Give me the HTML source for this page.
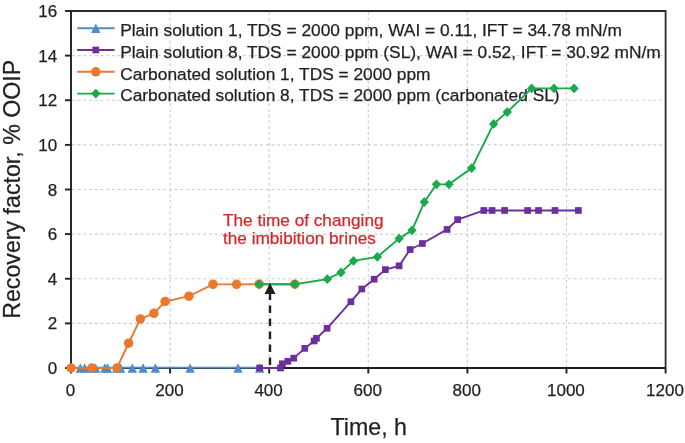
<!DOCTYPE html>
<html><head><meta charset="utf-8"><style>
html,body{margin:0;padding:0;background:#fff;}
svg{display:block;will-change:transform;}
text{font-family:"Liberation Sans",sans-serif;fill:#231f20;stroke:#231f20;stroke-width:0.25px;}
.tl{font-size:17px;}
.at{font-size:23.2px;}
.lg{font-size:17.34px;}
.an{font-size:17.2px;fill:#d8262b;stroke:#d8262b;}
</style></head><body>
<svg width="685" height="443" viewBox="0 0 685 443">
<rect width="685" height="443" fill="#fff"/>
<line x1="72.0" y1="323.38" x2="664.6" y2="323.38" stroke="#cfcfcf" stroke-width="1.2" stroke-dasharray="3 2.7"/>
<line x1="72.0" y1="278.75" x2="664.6" y2="278.75" stroke="#cfcfcf" stroke-width="1.2" stroke-dasharray="3 2.7"/>
<line x1="72.0" y1="234.12" x2="664.6" y2="234.12" stroke="#cfcfcf" stroke-width="1.2" stroke-dasharray="3 2.7"/>
<line x1="72.0" y1="189.50" x2="664.6" y2="189.50" stroke="#cfcfcf" stroke-width="1.2" stroke-dasharray="3 2.7"/>
<line x1="72.0" y1="144.88" x2="664.6" y2="144.88" stroke="#cfcfcf" stroke-width="1.2" stroke-dasharray="3 2.7"/>
<line x1="72.0" y1="100.25" x2="664.6" y2="100.25" stroke="#cfcfcf" stroke-width="1.2" stroke-dasharray="3 2.7"/>
<line x1="72.0" y1="55.62" x2="664.6" y2="55.62" stroke="#cfcfcf" stroke-width="1.2" stroke-dasharray="3 2.7"/>
<line x1="170.10" y1="12.0" x2="170.10" y2="367.0" stroke="#cfcfcf" stroke-width="1.2" stroke-dasharray="3 2.7"/>
<line x1="269.20" y1="12.0" x2="269.20" y2="367.0" stroke="#cfcfcf" stroke-width="1.2" stroke-dasharray="3 2.7"/>
<line x1="368.30" y1="12.0" x2="368.30" y2="367.0" stroke="#cfcfcf" stroke-width="1.2" stroke-dasharray="3 2.7"/>
<line x1="467.40" y1="12.0" x2="467.40" y2="367.0" stroke="#cfcfcf" stroke-width="1.2" stroke-dasharray="3 2.7"/>
<line x1="566.50" y1="12.0" x2="566.50" y2="367.0" stroke="#cfcfcf" stroke-width="1.2" stroke-dasharray="3 2.7"/>
<line x1="77.2" y1="28.20" x2="114.6" y2="28.20" stroke="#4f8cc9" stroke-width="1.9"/>
<path d="M95.80,23.40 L100.50,33.00 L91.10,33.00 Z" fill="#4f8cc9"/>
<text x="120.2" y="35.90" class="lg">Plain solution 1, TDS = 2000 ppm, WAI = 0.11, IFT = 34.78 mN/m</text>
<line x1="77.2" y1="50.00" x2="114.6" y2="50.00" stroke="#6b2f9e" stroke-width="1.9"/>
<rect x="92.45" y="46.65" width="6.7" height="6.7" fill="#6b2f9e"/>
<text x="120.2" y="57.70" class="lg">Plain solution 8, TDS = 2000 ppm (SL), WAI = 0.52, IFT = 30.92 mN/m</text>
<line x1="77.2" y1="71.80" x2="114.6" y2="71.80" stroke="#e8792f" stroke-width="1.9"/>
<circle cx="95.80" cy="71.80" r="4.75" fill="#e8792f"/>
<text x="120.2" y="79.50" class="lg">Carbonated solution 1, TDS = 2000 ppm</text>
<line x1="77.2" y1="93.60" x2="114.6" y2="93.60" stroke="#1aa94b" stroke-width="1.9"/>
<path d="M95.80,88.70 L100.50,93.60 L95.80,98.50 L91.10,93.60 Z" fill="#1aa94b"/>
<text x="120.2" y="101.30" class="lg">Carbonated solution 8, TDS = 2000 ppm (carbonated SL)</text>
<text x="223" y="226.4" class="an">The time of changing</text>
<text x="223" y="243.7" class="an">the imbibition brines</text>
<path d="M71.0,11.0 H665.6 V368.0" fill="none" stroke="#2e2728" stroke-width="1.8"/>
<path d="M71.0,10.1 V368.0 H665.6" fill="none" stroke="#231f20" stroke-width="1.9"/>
<line x1="65" y1="368.00" x2="71.0" y2="368.00" stroke="#231f20" stroke-width="1.9"/>
<line x1="65" y1="323.38" x2="71.0" y2="323.38" stroke="#231f20" stroke-width="1.9"/>
<line x1="65" y1="278.75" x2="71.0" y2="278.75" stroke="#231f20" stroke-width="1.9"/>
<line x1="65" y1="234.12" x2="71.0" y2="234.12" stroke="#231f20" stroke-width="1.9"/>
<line x1="65" y1="189.50" x2="71.0" y2="189.50" stroke="#231f20" stroke-width="1.9"/>
<line x1="65" y1="144.88" x2="71.0" y2="144.88" stroke="#231f20" stroke-width="1.9"/>
<line x1="65" y1="100.25" x2="71.0" y2="100.25" stroke="#231f20" stroke-width="1.9"/>
<line x1="65" y1="55.62" x2="71.0" y2="55.62" stroke="#231f20" stroke-width="1.9"/>
<line x1="65" y1="11.00" x2="71.0" y2="11.00" stroke="#231f20" stroke-width="1.9"/>
<line x1="71.00" y1="368.0" x2="71.00" y2="373.5" stroke="#231f20" stroke-width="1.9"/>
<line x1="170.10" y1="368.0" x2="170.10" y2="373.5" stroke="#231f20" stroke-width="1.9"/>
<line x1="269.20" y1="368.0" x2="269.20" y2="373.5" stroke="#231f20" stroke-width="1.9"/>
<line x1="368.30" y1="368.0" x2="368.30" y2="373.5" stroke="#231f20" stroke-width="1.9"/>
<line x1="467.40" y1="368.0" x2="467.40" y2="373.5" stroke="#231f20" stroke-width="1.9"/>
<line x1="566.50" y1="368.0" x2="566.50" y2="373.5" stroke="#231f20" stroke-width="1.9"/>
<line x1="665.60" y1="368.0" x2="665.60" y2="373.5" stroke="#231f20" stroke-width="1.9"/>
<text x="57.2" y="374.10" text-anchor="end" class="tl">0</text>
<text x="57.2" y="329.48" text-anchor="end" class="tl">2</text>
<text x="57.2" y="284.85" text-anchor="end" class="tl">4</text>
<text x="57.2" y="240.22" text-anchor="end" class="tl">6</text>
<text x="57.2" y="195.60" text-anchor="end" class="tl">8</text>
<text x="57.2" y="150.97" text-anchor="end" class="tl">10</text>
<text x="57.2" y="106.35" text-anchor="end" class="tl">12</text>
<text x="57.2" y="61.73" text-anchor="end" class="tl">14</text>
<text x="57.2" y="17.10" text-anchor="end" class="tl">16</text>
<text x="70.40" y="396.2" text-anchor="middle" class="tl">0</text>
<text x="169.50" y="396.2" text-anchor="middle" class="tl">200</text>
<text x="268.60" y="396.2" text-anchor="middle" class="tl">400</text>
<text x="367.70" y="396.2" text-anchor="middle" class="tl">600</text>
<text x="466.80" y="396.2" text-anchor="middle" class="tl">800</text>
<text x="565.90" y="396.2" text-anchor="middle" class="tl">1000</text>
<text x="665.00" y="396.2" text-anchor="middle" class="tl">1200</text>
<text x="368.8" y="434.5" text-anchor="middle" class="at">Time, h</text>
<text transform="translate(19.8,189.3) rotate(-90)" text-anchor="middle" class="at">Recovery factor, % OOIP</text>
<polyline points="71.00,368.00 80.32,368.00 84.69,368.00 91.83,368.00 95.59,368.00 104.82,368.00 107.49,368.00 116.62,368.00 120.58,368.00 132.28,368.00 143.09,368.00 155.39,368.00 190.10,368.00 238.00,368.00 259.71,368.00" fill="none" stroke="#4f8cc9" stroke-width="1.8" transform="translate(0,-0.3)"/>
<path d="M80.32,363.20 L85.02,372.80 L75.62,372.80 Z" fill="#4f8cc9"/>
<path d="M84.69,363.20 L89.39,372.80 L79.98,372.80 Z" fill="#4f8cc9"/>
<path d="M91.83,363.20 L96.53,372.80 L87.12,372.80 Z" fill="#4f8cc9"/>
<path d="M95.59,363.20 L100.29,372.80 L90.89,372.80 Z" fill="#4f8cc9"/>
<path d="M104.82,363.20 L109.52,372.80 L100.12,372.80 Z" fill="#4f8cc9"/>
<path d="M107.49,363.20 L112.19,372.80 L102.79,372.80 Z" fill="#4f8cc9"/>
<path d="M116.62,363.20 L121.32,372.80 L111.92,372.80 Z" fill="#4f8cc9"/>
<path d="M120.58,363.20 L125.28,372.80 L115.88,372.80 Z" fill="#4f8cc9"/>
<path d="M132.28,363.20 L136.98,372.80 L127.58,372.80 Z" fill="#4f8cc9"/>
<path d="M143.09,363.20 L147.79,372.80 L138.39,372.80 Z" fill="#4f8cc9"/>
<path d="M155.39,363.20 L160.09,372.80 L150.69,372.80 Z" fill="#4f8cc9"/>
<path d="M190.10,363.20 L194.80,372.80 L185.40,372.80 Z" fill="#4f8cc9"/>
<path d="M238.00,363.20 L242.70,372.80 L233.30,372.80 Z" fill="#4f8cc9"/>
<path d="M259.71,363.20 L264.41,372.80 L255.01,372.80 Z" fill="#4f8cc9"/>
<polyline points="259.66,368.00 280.49,368.00 282.32,363.76 287.83,361.31 293.73,358.18 304.79,348.37 314.11,341.00 316.44,338.32 327.10,328.28 350.90,301.73 361.81,289.01 374.20,279.20 385.36,269.60 399.09,265.81 410.15,249.52 422.40,243.50 447.09,229.44 457.65,219.62 483.78,210.47 492.11,210.47 504.61,210.47 527.61,210.47 538.52,210.47 554.98,210.47 578.39,210.47" fill="none" stroke="#6b2f9e" stroke-width="1.9"/>
<rect x="256.31" y="364.65" width="6.7" height="6.7" fill="#6b2f9e"/>
<rect x="277.14" y="364.65" width="6.7" height="6.7" fill="#6b2f9e"/>
<rect x="278.97" y="360.41" width="6.7" height="6.7" fill="#6b2f9e"/>
<rect x="284.48" y="357.96" width="6.7" height="6.7" fill="#6b2f9e"/>
<rect x="290.38" y="354.83" width="6.7" height="6.7" fill="#6b2f9e"/>
<rect x="301.44" y="345.01" width="6.7" height="6.7" fill="#6b2f9e"/>
<rect x="310.76" y="337.65" width="6.7" height="6.7" fill="#6b2f9e"/>
<rect x="313.09" y="334.97" width="6.7" height="6.7" fill="#6b2f9e"/>
<rect x="323.75" y="324.93" width="6.7" height="6.7" fill="#6b2f9e"/>
<rect x="347.55" y="298.38" width="6.7" height="6.7" fill="#6b2f9e"/>
<rect x="358.46" y="285.66" width="6.7" height="6.7" fill="#6b2f9e"/>
<rect x="370.85" y="275.85" width="6.7" height="6.7" fill="#6b2f9e"/>
<rect x="382.01" y="266.25" width="6.7" height="6.7" fill="#6b2f9e"/>
<rect x="395.74" y="262.46" width="6.7" height="6.7" fill="#6b2f9e"/>
<rect x="406.80" y="246.17" width="6.7" height="6.7" fill="#6b2f9e"/>
<rect x="419.05" y="240.15" width="6.7" height="6.7" fill="#6b2f9e"/>
<rect x="443.74" y="226.09" width="6.7" height="6.7" fill="#6b2f9e"/>
<rect x="454.30" y="216.27" width="6.7" height="6.7" fill="#6b2f9e"/>
<rect x="480.43" y="207.12" width="6.7" height="6.7" fill="#6b2f9e"/>
<rect x="488.76" y="207.12" width="6.7" height="6.7" fill="#6b2f9e"/>
<rect x="501.26" y="207.12" width="6.7" height="6.7" fill="#6b2f9e"/>
<rect x="524.26" y="207.12" width="6.7" height="6.7" fill="#6b2f9e"/>
<rect x="535.17" y="207.12" width="6.7" height="6.7" fill="#6b2f9e"/>
<rect x="551.63" y="207.12" width="6.7" height="6.7" fill="#6b2f9e"/>
<rect x="575.04" y="207.12" width="6.7" height="6.7" fill="#6b2f9e"/>
<polyline points="71.00,368.00 91.83,368.00 116.91,368.00 128.62,343.23 140.32,318.91 153.90,313.33 165.11,301.51 188.91,296.15 213.01,284.33 236.61,284.33 259.17,284.22 294.87,284.22" fill="none" stroke="#e8792f" stroke-width="1.9"/>
<circle cx="71.00" cy="368.00" r="4.75" fill="#e8792f"/>
<circle cx="91.83" cy="368.00" r="4.75" fill="#e8792f"/>
<circle cx="116.91" cy="368.00" r="4.75" fill="#e8792f"/>
<circle cx="128.62" cy="343.23" r="4.75" fill="#e8792f"/>
<circle cx="140.32" cy="318.91" r="4.75" fill="#e8792f"/>
<circle cx="153.90" cy="313.33" r="4.75" fill="#e8792f"/>
<circle cx="165.11" cy="301.51" r="4.75" fill="#e8792f"/>
<circle cx="188.91" cy="296.15" r="4.75" fill="#e8792f"/>
<circle cx="213.01" cy="284.33" r="4.75" fill="#e8792f"/>
<circle cx="236.61" cy="284.33" r="4.75" fill="#e8792f"/>
<circle cx="259.17" cy="284.22" r="4.75" fill="#e8792f"/>
<circle cx="294.87" cy="284.22" r="4.75" fill="#e8792f"/>
<polyline points="259.17,284.22 294.87,284.22 327.35,279.20 340.98,272.50 353.48,260.90 377.33,256.88 399.09,238.59 411.98,230.33 424.33,202.00 436.43,184.37 448.92,184.37 471.63,168.08 493.65,123.90 507.23,112.08 531.63,88.42 554.04,88.42 574.07,88.42" fill="none" stroke="#1aa94b" stroke-width="1.9"/>
<path d="M259.17,279.32 L263.87,284.22 L259.17,289.12 L254.47,284.22 Z" fill="#1aa94b"/>
<path d="M294.87,279.32 L299.57,284.22 L294.87,289.12 L290.17,284.22 Z" fill="#1aa94b"/>
<path d="M327.35,274.30 L332.05,279.20 L327.35,284.10 L322.65,279.20 Z" fill="#1aa94b"/>
<path d="M340.98,267.60 L345.68,272.50 L340.98,277.40 L336.28,272.50 Z" fill="#1aa94b"/>
<path d="M353.48,256.00 L358.18,260.90 L353.48,265.80 L348.78,260.90 Z" fill="#1aa94b"/>
<path d="M377.33,251.98 L382.03,256.88 L377.33,261.78 L372.63,256.88 Z" fill="#1aa94b"/>
<path d="M399.09,233.69 L403.79,238.59 L399.09,243.49 L394.39,238.59 Z" fill="#1aa94b"/>
<path d="M411.98,225.43 L416.68,230.33 L411.98,235.23 L407.28,230.33 Z" fill="#1aa94b"/>
<path d="M424.33,197.09 L429.03,202.00 L424.33,206.90 L419.63,202.00 Z" fill="#1aa94b"/>
<path d="M436.43,179.47 L441.13,184.37 L436.43,189.27 L431.73,184.37 Z" fill="#1aa94b"/>
<path d="M448.92,179.47 L453.62,184.37 L448.92,189.27 L444.22,184.37 Z" fill="#1aa94b"/>
<path d="M471.63,163.18 L476.33,168.08 L471.63,172.98 L466.93,168.08 Z" fill="#1aa94b"/>
<path d="M493.65,119.00 L498.35,123.90 L493.65,128.80 L488.95,123.90 Z" fill="#1aa94b"/>
<path d="M507.23,107.18 L511.93,112.08 L507.23,116.98 L502.53,112.08 Z" fill="#1aa94b"/>
<path d="M531.63,83.52 L536.33,88.42 L531.63,93.32 L526.93,88.42 Z" fill="#1aa94b"/>
<path d="M554.04,83.52 L558.74,88.42 L554.04,93.32 L549.34,88.42 Z" fill="#1aa94b"/>
<path d="M574.07,83.52 L578.77,88.42 L574.07,93.32 L569.37,88.42 Z" fill="#1aa94b"/>
<line x1="270.0" y1="365" x2="270.0" y2="293" stroke="#231f20" stroke-width="2.4" stroke-dasharray="7.5 5.5"/>
<path d="M270.0,283 L275.5,294 L264.5,294 Z" fill="#231f20"/>
</svg>
</body></html>
